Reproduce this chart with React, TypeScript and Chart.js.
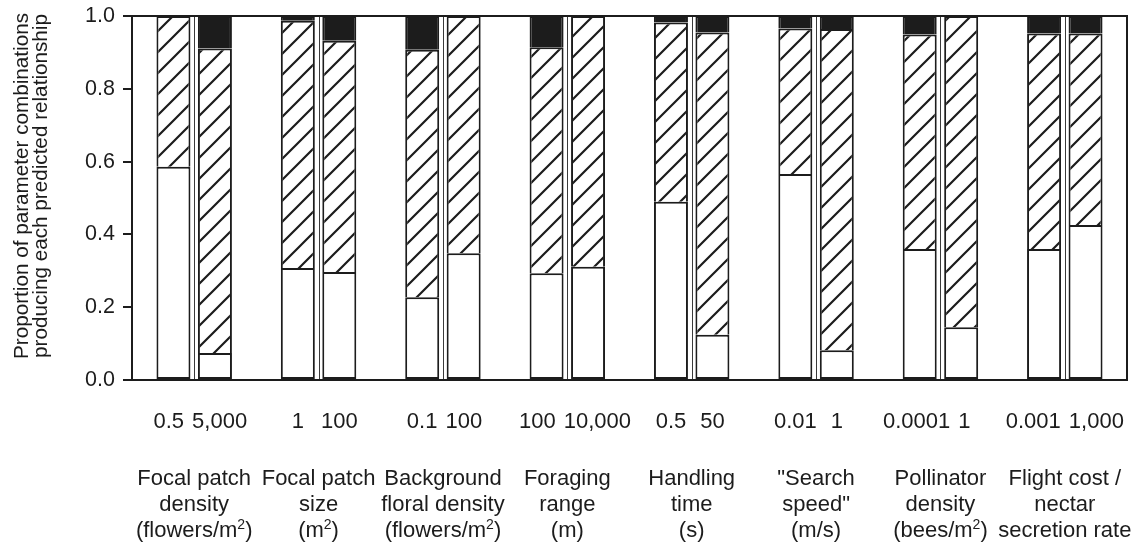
import React, { useEffect, useRef } from 'react';
import { Chart, registerables } from 'chart.js';

Chart.register(...registerables);

// Tick labels under each bar (low / high parameter value)
const valueLabels = ['0.5', '5,000', '1', '100', '0.1', '100', '100', '10,000', '0.5', '50', '0.01', '1', '0.0001', '1', '0.001', '1,000'];

// Parameter group labels (3 lines each; "^2" = superscript 2)
const groupLabels = [
  ['Focal patch', 'density', '(flowers/m^2)'],
  ['Focal patch', 'size', '(m^2)'],
  ['Background', 'floral density', '(flowers/m^2)'],
  ['Foraging', 'range', '(m)'],
  ['Handling', 'time', '(s)'],
  ['"Search', 'speed"', '(m/s)'],
  ['Pollinator', 'density', '(bees/m^2)'],
  ['Flight cost /', 'nectar', 'secretion rate'],
];

// Proportions of each predicted relationship (bottom white, middle hatched, top black)
const whiteShare = [0.586, 0.074, 0.308, 0.297, 0.227, 0.348, 0.293, 0.311, 0.490, 0.124, 0.566, 0.082, 0.360, 0.145, 0.360, 0.426];
const hatchedShare = [0.414, 0.837, 0.679, 0.635, 0.680, 0.652, 0.621, 0.689, 0.492, 0.831, 0.400, 0.882, 0.589, 0.855, 0.592, 0.526];
const blackShare = [0, 0.089, 0.013, 0.068, 0.093, 0, 0.086, 0, 0.018, 0.045, 0.034, 0.036, 0.051, 0, 0.048, 0.048];

const yTitle = ['Proportion of parameter combinations', 'producing each predicted relationship'];
const yTicks = [0, 0.2, 0.4, 0.6, 0.8, 1.0];

const FONT = "'Liberation Sans', Arial, sans-serif";
const INK = '#1c1c1c';

// Category slots: blank slot before/after each pair of bars
const slotLabels: string[] = [''];
const barSlot: number[] = [];
valueLabels.forEach((l, i) => {
  barSlot.push(slotLabels.length);
  slotLabels.push(l);
  if (i % 2 === 1) slotLabels.push('');
});
function toSlots(arr: number[]) {
  const out: (number | null)[] = slotLabels.map(() => null);
  arr.forEach((v, i) => {
    out[barSlot[i]] = v > 0 ? v : null;
  });
  return out;
}

function makeHatch() {
  const s = 21;
  const c = document.createElement('canvas');
  c.width = s;
  c.height = s;
  const g = c.getContext('2d')!;
  g.fillStyle = '#ffffff';
  g.fillRect(0, 0, s, s);
  g.strokeStyle = INK;
  g.lineWidth = 2.2;
  g.beginPath();
  g.moveTo(-2, s + 2);
  g.lineTo(s + 2, -2);
  g.moveTo(-2, 2);
  g.lineTo(2, -2);
  g.moveTo(s - 2, s + 2);
  g.lineTo(s + 2, s - 2);
  g.stroke();
  return g.createPattern(c, 'repeat');
}

const LABEL_FONT = `22px ${FONT}`;
const SUP_FONT = `14px ${FONT}`;

function drawRich(ctx: CanvasRenderingContext2D, text: string, cx: number, baseline: number) {
  const segs: { t: string; sup: boolean }[] = [];
  let buf = '';
  for (let i = 0; i < text.length; i++) {
    if (text[i] === '^' && i + 1 < text.length) {
      if (buf) segs.push({ t: buf, sup: false });
      buf = '';
      segs.push({ t: text[i + 1], sup: true });
      i++;
    } else buf += text[i];
  }
  if (buf) segs.push({ t: buf, sup: false });
  let total = 0;
  const widths = segs.map((s) => {
    ctx.font = s.sup ? SUP_FONT : LABEL_FONT;
    const w = ctx.measureText(s.t).width;
    total += w;
    return w;
  });
  let x = cx - total / 2;
  ctx.textAlign = 'left';
  ctx.textBaseline = 'alphabetic';
  segs.forEach((s, i) => {
    ctx.font = s.sup ? SUP_FONT : LABEL_FONT;
    ctx.fillText(s.t, x, s.sup ? baseline - 8 : baseline);
    x += widths[i];
  });
}

const decorPlugin = {
  id: 'decor',
  afterDatasetsDraw(chart: any) {
    const { ctx, chartArea: a, scales } = chart;
    const xs = scales.x;
    const ys = scales.y;
    ctx.save();
    ctx.strokeStyle = '#3a3a3a';
    ctx.lineWidth = 1;
    for (let g = 0; g < groupLabels.length; g++) {
      const p1 = xs.getPixelForValue(barSlot[2 * g]);
      const p2 = xs.getPixelForValue(barSlot[2 * g + 1]);
      const m = Math.round((p1 + p2) / 2) + 0.5;
      ctx.beginPath();
      ctx.moveTo(m, ys.getPixelForValue(0));
      ctx.lineTo(m, ys.getPixelForValue(1));
      ctx.stroke();
    }
    ctx.strokeStyle = INK;
    ctx.lineWidth = 2;
    ctx.strokeRect(a.left, a.top, a.right - a.left, a.bottom - a.top);
    ctx.restore();
  },
  afterDraw(chart: any) {
    const { ctx, scales, chartArea: a } = chart;
    const xs = scales.x;
    ctx.save();
    ctx.fillStyle = INK;
    // value labels under bars (pushed apart when a pair would collide)
    ctx.font = LABEL_FONT;
    ctx.textAlign = 'center';
    ctx.textBaseline = 'middle';
    for (let g = 0; g < groupLabels.length; g++) {
      const l1 = valueLabels[2 * g];
      const l2 = valueLabels[2 * g + 1];
      let c1 = xs.getPixelForValue(barSlot[2 * g]);
      let c2 = xs.getPixelForValue(barSlot[2 * g + 1]);
      const w1 = ctx.measureText(l1).width;
      const w2 = ctx.measureText(l2).width;
      const gap = c2 - w2 / 2 - (c1 + w1 / 2);
      const minGap = 8;
      if (gap < minGap) {
        const sh = (minGap - gap) / 2;
        c1 -= sh;
        c2 += sh;
      }
      ctx.fillText(l1, c1, xs.top + 42);
      ctx.fillText(l2, c2, xs.top + 42);
    }
    // group labels
    groupLabels.forEach((lines, g) => {
      const p1 = xs.getPixelForValue(barSlot[2 * g]);
      const p2 = xs.getPixelForValue(barSlot[2 * g + 1]);
      const cx = (p1 + p2) / 2;
      lines.forEach((ln, k) => drawRich(ctx, ln, cx, xs.top + 105 + 26 * k));
    });
    // y axis title
    ctx.translate(0, (a.top + a.bottom) / 2 - 12);
    ctx.rotate(-Math.PI / 2);
    ctx.font = `20.7px ${FONT}`;
    ctx.textAlign = 'center';
    ctx.textBaseline = 'middle';
    yTitle.forEach((t, k) => ctx.fillText(t, 0, 22.5 + 18.3 * k));
    ctx.restore();
  },
};

export default function App() {
  const ref = useRef<HTMLCanvasElement | null>(null);
  useEffect(() => {
    if (!ref.current) return;
    const hatch = makeHatch();
    const chart = new Chart(ref.current, {
      type: 'bar',
      data: {
        labels: slotLabels,
        datasets: [
          {
            label: 'white',
            data: toSlots(whiteShare),
            backgroundColor: '#ffffff',
            borderColor: INK,
            borderWidth: 2,
            borderSkipped: false,
          },
          {
            label: 'hatched',
            data: toSlots(hatchedShare),
            backgroundColor: hatch as any,
            borderColor: INK,
            borderWidth: 2,
            borderSkipped: 'bottom',
          },
          {
            label: 'black',
            data: toSlots(blackShare),
            backgroundColor: INK,
            borderColor: INK,
            borderWidth: 2,
            borderSkipped: 'bottom',
          },
        ] as any,
      },
      options: {
        animation: false,
        responsive: false,
        layout: { autoPadding: false, padding: { top: 16, right: 20, left: 0, bottom: 0 } },
        datasets: { bar: { barPercentage: 0.82, categoryPercentage: 1.0 } } as any,
        plugins: { legend: { display: false }, tooltip: { enabled: false } },
        scales: {
          x: {
            type: 'category',
            stacked: true,
            offset: false,
            grid: { display: false, drawTicks: false },
            border: { display: false },
            ticks: { display: false, autoSkip: false },
            afterFit: (s: any) => {
              s.height = 164;
            },
          },
          y: {
            stacked: true,
            min: 0,
            max: 1,
            afterBuildTicks: (s: any) => {
              s.ticks = yTicks.map((v) => ({ value: v }));
            },
            grid: { drawOnChartArea: false, drawTicks: true, tickLength: 9, color: INK, lineWidth: 2 },
            border: { display: false },
            ticks: {
              padding: 8,
              color: INK,
              font: { family: FONT, size: 21.5, lineHeight: 0.6 },
              callback: (v: any) => Number(v).toFixed(1),
            },
            title: { display: false },
            afterFit: (s: any) => {
              s.width = 132;
            },
          },
        },
      } as any,
      plugins: [decorPlugin],
    });
    return () => chart.destroy();
  }, []);
  return (
    <div style={{ position: 'absolute', left: 0, top: 0, width: 1147, height: 544, background: '#fff' }}>
      <canvas ref={ref} width={1147} height={544} style={{ display: 'block' }} />
    </div>
  );
}
